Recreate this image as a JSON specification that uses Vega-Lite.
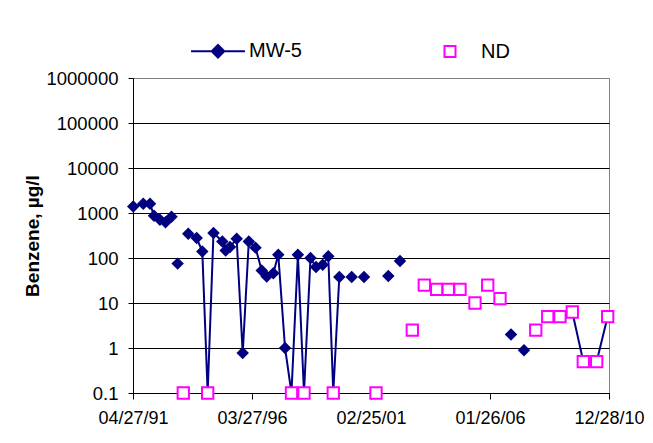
{
  "$schema": "https://vega.github.io/schema/vega-lite/v6.json",
  "width": 476,
  "height": 315,
  "autosize": {"type": "none"},
  "padding": {"left": 133, "top": 78, "right": 44, "bottom": 50},
  "background": "white",
  "config": {
    "view": {"stroke": "#808080", "strokeWidth": 1},
    "font": "Liberation Sans",
    "axis": {"labelFont": "Liberation Sans", "titleFont": "Liberation Sans", "labelColor": "black", "titleColor": "black", "domainColor": "black", "tickColor": "black", "domainWidth": 1, "tickWidth": 1},
    "legend": {
      "orient": "none",
      "legendX": 75,
      "legendY": -37,
      "direction": "horizontal",
      "labelFont": "Liberation Sans",
      "labelFontSize": 20,
      "labelColor": "black",
      "symbolSize": 121,
      "symbolStrokeWidth": 2,
      "symbolOpacity": 1,
      "labelOffset": 21,
      "columnPadding": 138,
      "padding": 0
    }
  },
  "data": {
    "values": [
      {"d": "1991-05-01", "v": 1400, "s": "MW-5", "g": "a"},
      {"d": "1991-09-29", "v": 1600, "s": "MW-5", "g": "a"},
      {"d": "1992-01-09", "v": 1600, "s": "MW-5", "g": "a"},
      {"d": "1992-03-09", "v": 870, "s": "MW-5", "g": "a"},
      {"d": "1992-06-07", "v": 710, "s": "MW-5", "g": "a"},
      {"d": "1992-08-30", "v": 625, "s": "MW-5", "g": "a"},
      {"d": "1992-11-28", "v": 830, "s": "MW-5", "g": "a"},
      {"d": "1993-03-01", "v": 75, "s": "MW-5", "g": "i1"},
      {"d": "1993-08-08", "v": 347, "s": "MW-5", "g": "b"},
      {"d": "1993-12-13", "v": 278, "s": "MW-5", "g": "b"},
      {"d": "1994-03-08", "v": 140, "s": "MW-5", "g": "b"},
      {"d": "1994-05-28", "v": 0.1, "s": "MW-5", "g": "b"},
      {"d": "1994-08-24", "v": 360, "s": "MW-5", "g": "b"},
      {"d": "1995-01-04", "v": 234, "s": "MW-5", "g": "b"},
      {"d": "1995-02-24", "v": 147, "s": "MW-5", "g": "b"},
      {"d": "1995-04-30", "v": 175, "s": "MW-5", "g": "b"},
      {"d": "1995-08-09", "v": 268, "s": "MW-5", "g": "b"},
      {"d": "1995-11-08", "v": 0.77, "s": "MW-5", "g": "b"},
      {"d": "1996-02-08", "v": 234, "s": "MW-5", "g": "b"},
      {"d": "1996-05-19", "v": 170, "s": "MW-5", "g": "b"},
      {"d": "1996-08-21", "v": 53, "s": "MW-5", "g": "b"},
      {"d": "1996-11-04", "v": 39, "s": "MW-5", "g": "b"},
      {"d": "1997-02-12", "v": 46, "s": "MW-5", "g": "b"},
      {"d": "1997-04-28", "v": 118, "s": "MW-5", "g": "b"},
      {"d": "1997-08-08", "v": 1.0, "s": "MW-5", "g": "b"},
      {"d": "1997-11-13", "v": 0.1, "s": "MW-5", "g": "b"},
      {"d": "1998-02-18", "v": 118, "s": "MW-5", "g": "b"},
      {"d": "1998-05-21", "v": 0.1, "s": "MW-5", "g": "b"},
      {"d": "1998-08-27", "v": 100, "s": "MW-5", "g": "b"},
      {"d": "1998-11-18", "v": 63, "s": "MW-5", "g": "b"},
      {"d": "1999-02-27", "v": 71, "s": "MW-5", "g": "b"},
      {"d": "1999-05-23", "v": 109, "s": "MW-5", "g": "b"},
      {"d": "1999-08-06", "v": 0.1, "s": "MW-5", "g": "b"},
      {"d": "1999-11-05", "v": 38, "s": "MW-5", "g": "b"},
      {"d": "2000-05-10", "v": 38, "s": "MW-5", "g": "i2"},
      {"d": "2000-11-12", "v": 38, "s": "MW-5", "g": "i3"},
      {"d": "2001-11-14", "v": 40, "s": "MW-5", "g": "i4"},
      {"d": "2002-05-09", "v": 86, "s": "MW-5", "g": "i5"},
      {"d": "2006-12-10", "v": 2.0, "s": "MW-5", "g": "i6"},
      {"d": "2007-06-24", "v": 0.89, "s": "MW-5", "g": "i7"},
      {"d": "2009-06-22", "v": 6.3, "s": "MW-5", "g": "c"},
      {"d": "2009-12-05", "v": 0.5, "s": "MW-5", "g": "c"},
      {"d": "2010-06-25", "v": 0.5, "s": "MW-5", "g": "c"},
      {"d": "2010-12-08", "v": 5, "s": "MW-5", "g": "c"},
      {"d": "1993-05-25", "v": 0.1, "s": "ND", "g": "n"},
      {"d": "1994-05-28", "v": 0.1, "s": "ND", "g": "n"},
      {"d": "1997-11-13", "v": 0.1, "s": "ND", "g": "n"},
      {"d": "1998-05-21", "v": 0.1, "s": "ND", "g": "n"},
      {"d": "1999-08-06", "v": 0.1, "s": "ND", "g": "n"},
      {"d": "2001-05-12", "v": 0.1, "s": "ND", "g": "n"},
      {"d": "2002-11-11", "v": 2.5, "s": "ND", "g": "n"},
      {"d": "2003-05-11", "v": 25, "s": "ND", "g": "n"},
      {"d": "2003-11-14", "v": 20, "s": "ND", "g": "n"},
      {"d": "2004-05-07", "v": 20, "s": "ND", "g": "n"},
      {"d": "2004-10-31", "v": 20, "s": "ND", "g": "n"},
      {"d": "2005-06-14", "v": 10, "s": "ND", "g": "n"},
      {"d": "2005-12-23", "v": 25, "s": "ND", "g": "n"},
      {"d": "2006-06-27", "v": 12.5, "s": "ND", "g": "n"},
      {"d": "2007-12-18", "v": 2.5, "s": "ND", "g": "n"},
      {"d": "2008-06-16", "v": 5, "s": "ND", "g": "n"},
      {"d": "2008-12-18", "v": 5, "s": "ND", "g": "n"},
      {"d": "2009-06-22", "v": 6.3, "s": "ND", "g": "n"},
      {"d": "2009-12-05", "v": 0.5, "s": "ND", "g": "n"},
      {"d": "2010-06-25", "v": 0.5, "s": "ND", "g": "n"},
      {"d": "2010-12-08", "v": 5, "s": "ND", "g": "n"}
    ]
  },
  "encoding": {
    "x": {
      "field": "d",
      "type": "temporal",
      "scale": {
        "type": "utc",
        "domain": [
          {"year": 1991, "month": 4, "date": 27, "utc": true},
          {"year": 2010, "month": 12, "date": 28, "utc": true}
        ]
      },
      "axis": {
        "title": null,
        "grid": false,
        "values": [
          {"year": 1991, "month": 4, "date": 27, "utc": true},
          {"year": 1996, "month": 3, "date": 27, "utc": true},
          {"year": 2001, "month": 2, "date": 25, "utc": true},
          {"year": 2006, "month": 1, "date": 26, "utc": true},
          {"year": 2010, "month": 12, "date": 28, "utc": true}
        ],
        "format": "%m/%d/%y",
        "labelFontSize": 18,
        "tickSize": 6,
        "labelPadding": 10,
        "labelFlush": false,
        "labelOverlap": false
      }
    },
    "y": {
      "field": "v",
      "type": "quantitative",
      "scale": {"type": "log", "domain": [0.1, 1000000], "nice": false},
      "axis": {
        "title": "Benzene, µg/l",
        "titleFontSize": 19,
        "titleFontWeight": "bold",
        "titlePadding": 3,
        "values": [0.1, 1, 10, 100, 1000, 10000, 100000, 1000000],
        "format": ".1~f",
        "labelFontSize": 18.5,
        "tickSize": 5,
        "labelPadding": 10,
        "grid": true,
        "gridColor": {"condition": {"test": "datum.value >= 1000000", "value": "#808080"}, "value": "#000000"},
        "gridWidth": 1
      }
    }
  },
  "layer": [
    {
      "mark": {"type": "point", "filled": true, "opacity": 0, "strokeWidth": 2},
      "encoding": {
        "fill": {"field": "s", "type": "nominal", "scale": {"domain": ["MW-5", "ND"], "range": ["#000080", "#FFFFFF"]}, "legend": {"title": null}},
        "stroke": {"field": "s", "type": "nominal", "scale": {"domain": ["MW-5", "ND"], "range": ["#000080", "#FF00FF"]}, "legend": {"title": null}},
        "shape": {"field": "s", "type": "nominal", "scale": {"domain": ["MW-5", "ND"], "range": ["M-4.9,0L4.9,0M0,-1.15L1.15,0L0,1.15L-1.15,0Z", "square"]}, "legend": {"title": null}}
      }
    },
    {
      "transform": [{"filter": "datum.s === 'MW-5'"}],
      "mark": {"type": "line", "color": "#000080", "strokeWidth": 2},
      "encoding": {"detail": {"field": "g", "type": "nominal"}}
    },
    {
      "transform": [{"filter": "datum.s === 'MW-5'"}],
      "mark": {"type": "point", "shape": "diamond", "filled": true, "size": 156, "opacity": 1, "color": "#000080"},
      "encoding": {}
    },
    {
      "transform": [{"filter": "datum.s === 'ND'"}],
      "mark": {"type": "point", "shape": "square", "filled": false, "fill": "white", "stroke": "#FF00FF", "size": 128, "strokeWidth": 2, "opacity": 1},
      "encoding": {}
    }
  ]
}
